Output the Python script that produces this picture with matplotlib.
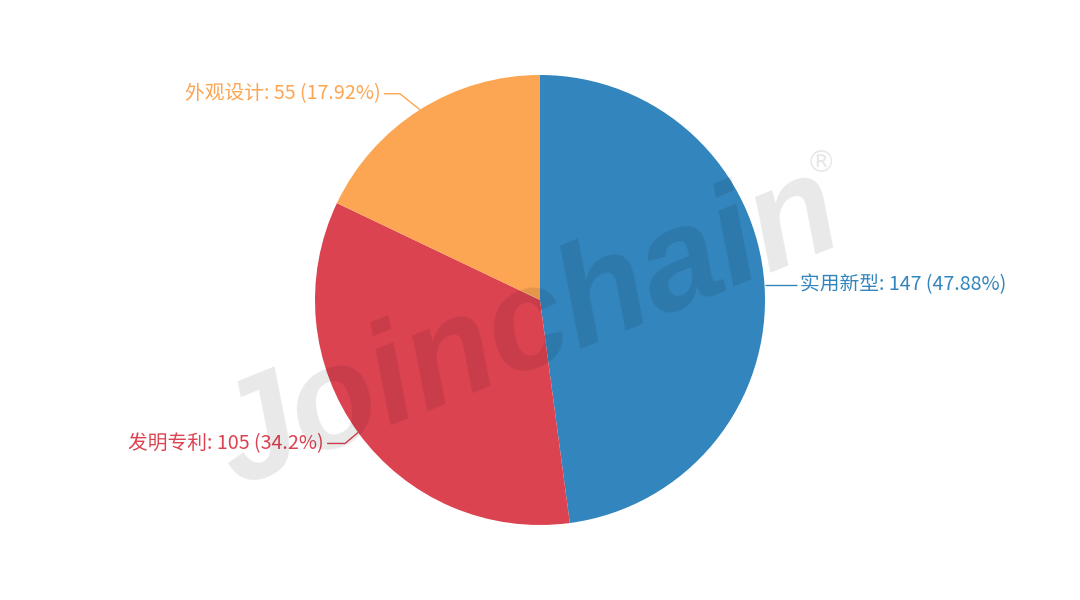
import numpy as np
import matplotlib
matplotlib.use("Agg")
import matplotlib.pyplot as plt

plt.rcParams['font.family'] = ['Noto Sans CJK SC', 'DejaVu Sans']

categories = ["实用新型", "发明专利", "外观设计"]
values = [147, 105, 55]
percents = ["47.88%", "34.2%", "17.92%"]
colors = ["#3385BD", "#DC4351", "#FCA552"]

W, H = 1080, 600
fig = plt.figure(figsize=(W / 100, H / 100), dpi=100)
fig.patch.set_facecolor("white")

# pie axes: centre (540,300) px, radius 225 px
R = 225
ax = fig.add_axes([(540 - R) / W, (300 - R) / H, 2 * R / W, 2 * R / H])
ax.set_xlim(-1, 1)
ax.set_ylim(-1, 1)
ax.set_aspect("equal")
ax.axis("off")

wedges, _ = ax.pie(values, startangle=90, counterclock=False, colors=colors,
                   radius=1, wedgeprops=dict(linewidth=0), center=(0, 0), frame=False)
ax.set_xlim(-1, 1)
ax.set_ylim(-1, 1)

# leader line offsets (data units; 1 unit = 225 px): (elbow dx, elbow dy, horizontal length)
leader = {0: (0.07, 0.0, 0.075), 1: (-0.058, -0.049, -0.08), 2: (-0.089, 0.071, -0.071)}
for i, w in enumerate(wedges):
    ang = np.deg2rad((w.theta1 + w.theta2) / 2)
    x0, y0 = np.cos(ang), np.sin(ang)
    dx, dy, hl = leader[i]
    x1, y1 = x0 + dx, y0 + dy
    x2 = x1 + hl
    ax.plot([x0, x1, x2], [y0, y1, y1], color=colors[i], lw=1, solid_capstyle="butt",
            clip_on=False)
    txt = f"{categories[i]}: {values[i]} ({percents[i]})"
    ha = "left" if hl > 0 else "right"
    ax.text(x2 + (0.013 if hl > 0 else -0.013), y1, txt, color=colors[i],
            fontsize=14.2, ha=ha, va="center", clip_on=False)

# watermark
fig.text(528 / W, 1 - 330 / H, "Joinchain", fontsize=102, fontweight="bold", fontstyle="italic",
         family=["Liberation Sans", "DejaVu Sans"], color="black", alpha=0.09,
         rotation=22, ha="center", va="center", rotation_mode="anchor")
fig.text(821 / W, 1 - 163 / H, "®", fontsize=22, family=["DejaVu Sans"],
         color="black", alpha=0.09, ha="center", va="center")

fig.savefig("out.png", dpi=100, facecolor="white")
